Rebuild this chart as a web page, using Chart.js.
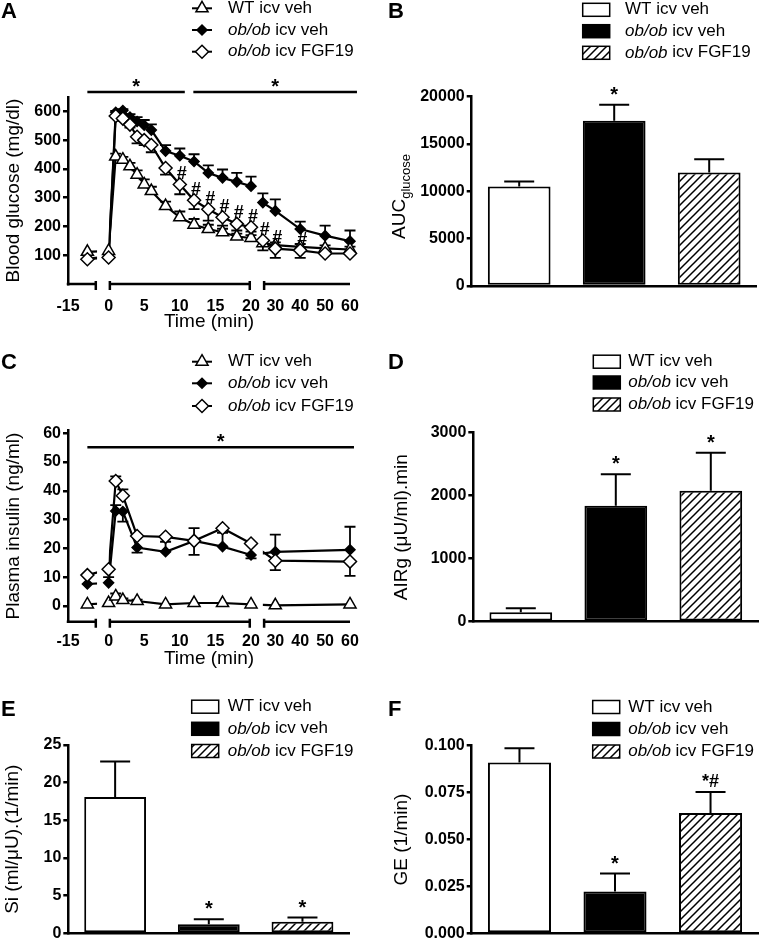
<!DOCTYPE html>
<html>
<head>
<meta charset="utf-8">
<title>ob/ob icv FGF19 IVGTT</title>
<script src="https://cdn.jsdelivr.net/npm/chart.js@4.4.1/dist/chart.umd.min.js"></script>
<style>
  body { margin: 0; background: #fff; }
  #fig { position: relative; width: 778px; height: 945px; background: #fff; overflow: hidden; }
  #fig canvas { position: absolute; }
  .panel { position: absolute; font: bold 22px/22px "Liberation Sans", Arial, sans-serif; color: #000; }
</style>
</head>
<body>
<div id="fig">
  <canvas id="chartA" width="389" height="340" style="left:0;top:0"></canvas>
  <canvas id="chartB" width="389" height="340" style="left:389px;top:0"></canvas>
  <canvas id="chartC" width="389" height="335" style="left:0;top:340px"></canvas>
  <canvas id="chartD" width="389" height="335" style="left:389px;top:340px"></canvas>
  <canvas id="chartE" width="389" height="270" style="left:0;top:675px"></canvas>
  <canvas id="chartF" width="389" height="270" style="left:389px;top:675px"></canvas>
  <div class="panel" style="left:1px;top:0">A</div>
  <div class="panel" style="left:388px;top:0">B</div>
  <div class="panel" style="left:1px;top:351px">C</div>
  <div class="panel" style="left:388px;top:351px">D</div>
  <div class="panel" style="left:1px;top:698px">E</div>
  <div class="panel" style="left:388px;top:698px">F</div>
</div>
<script>
const FONT = '"Liberation Sans", Arial, sans-serif';
Chart.defaults.font.family = FONT;
Chart.defaults.color = '#000';

/* ---- data ---- */
const groups = ['WT icv veh', 'ob/ob icv veh', 'ob/ob icv FGF19'];
const timeTicks = [-15, 0, 5, 10, 15, 20, 30, 40, 50, 60];

// A: blood glucose (mg/dl); errors signed (+ up, - down)
const glucoseTimes  = [-10, 0, 1, 2, 3, 4, 5, 6, 8, 10, 12, 14, 16, 18, 20, 25, 30, 40, 50, 60];
const glucoseWT     = [112, 115, 443, 432, 409, 380, 346, 323, 271, 232, 206, 191, 180, 165, 160, 142, 135, 129, 124, 120];
const glucoseWTErr  = [0, 0, 10, 10, 12, 15, 18, 15, 15, 20, 20, 15, 12, 10, 10, 10, 10, 10, 10, 10];
const glucoseVeh    = [88, 95, 597, 603, 580, 565, 552, 535, 462, 446, 426, 386, 369, 355, 340, 283, 254, 191, 168, 149];
const glucoseVehErr = [0, 0, 5, 5, 10, 15, 18, 20, 21, 25, 25, 26, 29, 31, 33, 32, 40, 26, 35, 37];
const glucoseFGF    = [86, 92, 584, 575, 554, 512, 500, 483, 403, 346, 291, 260, 232, 209, 197, 151, 123, 117, 106, 106];
const glucoseFGFErr = [0, 0, -5, -8, -10, -23, -17, -25, -23, -34, -31, -40, -29, -23, -15, -34, -32, -26, 0, 0];
const glucoseTicks  = [100, 200, 300, 400, 500, 600];
const glucoseHashTimes = [10, 12, 14, 16, 18, 20, 25, 30, 40];
const glucoseSigBars = [[-10, 10.7, 667], [11.9, 62.8, 667]];   // [from min, to min, level]

// C: plasma insulin (ng/ml)
const insulinTimes  = [-10, 0, 1, 2, 4, 8, 12, 16, 20, 30, 60];
const insulinWT     = [0.5, 1, 3.3, 2, 1.7, 0.5, 1, 1, 0.5, 0.2, 0.5];
const insulinWTErr  = [0, 0, 1, 0.6, 0.5, 0, 0, 0, 0, 0, 0];
const insulinVeh    = [7.6, 8, 33, 32.8, 20.3, 18.8, 22.6, 20.6, 17.7, 18.8, 19.5];
const insulinVehErr = [0, 2, 2, -3.5, -1.8, 3.5, -4.9, 4.8, -1.2, 6, 8];
const insulinFGF    = [10.7, 12.7, 43.4, 38.3, 24.3, 24, 22.6, 27, 21.7, 15.7, 15.4];
const insulinFGFErr = [0, 0, 1.6, 2.2, 0, 0, 4.4, 0, 0, -3.3, -5];
const insulinTicks  = [0, 10, 20, 30, 40, 50, 60];
const insulinSigBars = [[-10, 61.6, 55.1]];

// B, D, E, F: bar panels
const aucGlucose = [10500, 17450, 12000];
const aucGlucoseErr = [550, 1700, 1400];
const aucMarks = ['', '*', ''];
const aucTicks = [0, 5000, 10000, 15000, 20000];

const airg = [150, 1840, 2080];
const airgErr = [65, 500, 600];
const airgMarks = ['', '*', '*'];
const airgTicks = [0, 1000, 2000, 3000];

const si = [18.1, 1.22, 1.54];
const siErr = [4.7, 0.66, 0.56];
const siMarks = ['', '*', '*'];
const siTicks = [0, 5, 10, 15, 20, 25];

const ge = [0.0911, 0.0223, 0.0641];
const geErr = [0.0075, 0.0096, 0.0112];
const geMarks = ['', '*', '*#'];
const geTicks = [0, 0.025, 0.05, 0.075, 0.1];

/* ---- broken time axis: each piece is a time range on a share of the plot width ---- */
const timeSegments = [
  {min: -15, max: -7.5, from: 0, to: 0.103},
  {min: 0, max: 20, from: 0.144, to: 0.649},
  {min: 25, max: 60, from: 0.691, to: 1}
];
function toAxis(t) {
  const s = timeSegments.find(g => t <= g.max) || timeSegments[timeSegments.length - 1];
  return s.from + (t - s.min) / (s.max - s.min) * (s.to - s.from);
}

const markers = [
  {pointStyle: 'triangle', radius: 7, fill: '#fff', order: 1},
  {pointStyle: 'rectRot', radius: 5, fill: '#000', order: 2},
  {pointStyle: 'rectRot', radius: 6.5, fill: '#fff', order: 0}
];

/* ---- drawing helpers ---- */
function drawMarker(ctx, st, x, y) {
  const r = st.radius;
  ctx.save();
  ctx.fillStyle = st.fill; ctx.strokeStyle = '#000'; ctx.lineWidth = 1.5;
  ctx.beginPath();
  if (st.pointStyle === 'triangle') {
    ctx.moveTo(x, y - r);
    ctx.lineTo(x + r * 0.866, y + r / 2);
    ctx.lineTo(x - r * 0.866, y + r / 2);
  } else {
    ctx.moveTo(x, y - r); ctx.lineTo(x + r, y); ctx.lineTo(x, y + r); ctx.lineTo(x - r, y);
  }
  ctx.closePath(); ctx.fill(); ctx.stroke();
  ctx.restore();
}

function drawGroupName(ctx, name, x, y) {
  ctx.fillStyle = '#000'; ctx.textAlign = 'left'; ctx.textBaseline = 'middle';
  if (name.startsWith('ob/ob')) {
    ctx.font = 'italic 17px ' + FONT;
    ctx.fillText('ob/ob', x, y);
    x += ctx.measureText('ob/ob').width;
    name = name.slice(5);
  }
  ctx.font = '17px ' + FONT;
  ctx.fillText(name, x, y);
}

function drawLegend(ctx, L, fills) {
  ctx.save();
  groups.forEach((name, i) => {
    const y = L.rows[i];
    if (!fills) {
      ctx.strokeStyle = '#000'; ctx.lineWidth = 2;
      ctx.beginPath(); ctx.moveTo(L.x, y); ctx.lineTo(L.x + 20, y); ctx.stroke();
      drawMarker(ctx, markers[i], L.x + 10, y);
    } else {
      ctx.fillStyle = fills[i]; ctx.fillRect(L.x, y - 6.5, 27, 13);
      ctx.strokeStyle = '#000'; ctx.lineWidth = 1.5; ctx.strokeRect(L.x, y - 6.5, 27, 13);
    }
    drawGroupName(ctx, name, L.textX, y);
  });
  ctx.restore();
}

// centre the ink of a short mark on (x, cy)
function inkText(ctx, text, x, cy) {
  ctx.textAlign = 'center'; ctx.textBaseline = 'alphabetic';
  const m = ctx.measureText(text);
  ctx.fillText(text, x, cy + (m.actualBoundingBoxAscent - m.actualBoundingBoxDescent) / 2);
}

function hatch(ctx) {
  const c = document.createElement('canvas');
  c.width = 8; c.height = 8;
  const g = c.getContext('2d');
  g.fillStyle = '#fff'; g.fillRect(0, 0, 8, 8);
  g.strokeStyle = '#000'; g.lineWidth = 1.5;
  g.beginPath();
  g.moveTo(-1, 9); g.lineTo(9, -1);
  g.moveTo(-3, 3); g.lineTo(3, -3);
  g.moveTo(5, 11); g.lineTo(11, 5);
  g.stroke();
  return ctx.createPattern(c, 'repeat');
}

function yAxis(o) {
  return {
    type: 'linear', min: o.min, max: o.max,
    afterBuildTicks: s => { s.ticks = o.ticks.map(v => ({value: v})); },
    afterFit: s => { s.width = o.width; },
    border: {display: true, color: '#000', width: 2.5},
    grid: {display: true, drawOnChartArea: false, drawTicks: true, tickLength: 5, color: '#000', lineWidth: 2.5},
    ticks: {font: {size: 16, weight: 'bold'}, color: '#000', padding: 2, callback: o.fmt || (v => String(v))},
    title: o.title ? {display: true, text: o.title, color: '#000', font: {size: 19}, padding: {top: o.titlePad, bottom: 0}} : {display: false}
  };
}

/* ---- plugins ---- */
const gapClip = {
  id: 'gapClip',
  beforeDatasetDraw(chart, args) {
    if (!chart.data.datasets[args.index].clipGaps) return;
    const ctx = chart.ctx, x = chart.scales.x, a = chart.chartArea;
    ctx.save();
    ctx.beginPath();
    timeSegments.forEach(s => {
      const x0 = x.getPixelForValue(s.from), x1 = x.getPixelForValue(s.to);
      ctx.rect(x0, a.top - 30, x1 - x0, a.bottom - a.top + 60);
    });
    ctx.clip();
  },
  afterDatasetDraw(chart, args) {
    if (chart.data.datasets[args.index].clipGaps) chart.ctx.restore();
  }
};

const lineErrors = {
  id: 'lineErrors',
  beforeDatasetsDraw(chart) {
    const ctx = chart.ctx, y = chart.scales.y;
    ctx.save();
    ctx.strokeStyle = '#000'; ctx.lineWidth = 1.8;
    chart.data.datasets.forEach((ds, i) => {
      if (!ds.errors) return;
      chart.getDatasetMeta(i).data.forEach((pt, j) => {
        const e = ds.errors[j];
        if (!e) return;
        const v = ds.data[j].y, y0 = y.getPixelForValue(v), y1 = y.getPixelForValue(v + e);
        ctx.beginPath();
        ctx.moveTo(pt.x, y0); ctx.lineTo(pt.x, y1);
        ctx.moveTo(pt.x - 5.5, y1); ctx.lineTo(pt.x + 5.5, y1);
        ctx.stroke();
      });
    });
    ctx.restore();
  }
};

const brokenAxis = {
  id: 'brokenAxis',
  afterDraw(chart) {
    const ctx = chart.ctx, x = chart.scales.x, y = chart.chartArea.bottom;
    ctx.save();
    ctx.strokeStyle = '#000'; ctx.lineWidth = 2.5;
    timeSegments.forEach((s, i) => {
      const x0 = x.getPixelForValue(s.from), x1 = x.getPixelForValue(s.to);
      ctx.beginPath();
      ctx.moveTo(x0 - (i === 0 ? 1.25 : 0), y); ctx.lineTo(x1, y);
      if (i > 0) { ctx.moveTo(x0 + 1.25, y - 3); ctx.lineTo(x0 + 1.25, y + 6); }
      if (i < timeSegments.length - 1) { ctx.moveTo(x1 - 1.25, y - 3); ctx.lineTo(x1 - 1.25, y + 6); }
      ctx.stroke();
    });
    ctx.restore();
  }
};

function lineExtras(o) {
  return {
    id: 'lineExtras',
    afterDraw(chart) {
      const ctx = chart.ctx, x = chart.scales.x, y = chart.scales.y;
      drawLegend(ctx, o.legend);
      ctx.save();
      ctx.strokeStyle = '#000'; ctx.fillStyle = '#000'; ctx.lineWidth = 2.5;
      o.sigBars.forEach(([t0, t1, v]) => {
        const x0 = x.getPixelForValue(toAxis(t0)), x1 = x.getPixelForValue(toAxis(t1)), py = y.getPixelForValue(v);
        ctx.beginPath(); ctx.moveTo(x0, py); ctx.lineTo(x1, py); ctx.stroke();
        ctx.font = 'bold 20px ' + FONT;
        inkText(ctx, '*', (x0 + x1) / 2, py - 9);
      });
      ctx.font = 'bold 18px ' + FONT;
      const fgf = o.series[2][0];
      o.hashTimes.forEach(t => {
        const i = o.times.indexOf(t);
        inkText(ctx, '#', x.getPixelForValue(toAxis(t)) + 2, y.getPixelForValue(fgf[i]) - 12);
      });
      ctx.restore();
    }
  };
}

function lineChart(id, o) {
  const datasets = [];
  o.series.forEach(([vals, errs], k) => {
    const st = markers[k];
    const pts = () => o.times.map((t, i) => ({x: toAxis(t), y: vals[i]}));
    datasets.push({data: pts(), showLine: true, pointRadius: 0, borderColor: '#000', borderWidth: 2.2,
      clipGaps: true, order: 10, clip: false});
    datasets.push({data: pts(), showLine: false, pointStyle: st.pointStyle, pointRadius: st.radius,
      pointBackgroundColor: st.fill, pointBorderColor: '#000', pointBorderWidth: 1.5,
      errors: errs, order: st.order, clip: false});
  });
  return new Chart(document.getElementById(id), {
    type: 'line',
    data: {datasets},
    options: {
      responsive: false, animation: false, events: [],
      layout: {padding: o.padding},
      plugins: {legend: {display: false}, tooltip: {enabled: false}},
      scales: {
        x: {
          type: 'linear', min: 0, max: 1,
          afterBuildTicks: s => { s.ticks = timeTicks.map(t => ({value: toAxis(t)})); },
          afterFit: s => { s.height = o.xHeight; },
          border: {display: false},
          grid: {display: false},
          ticks: {autoSkip: false, maxRotation: 0, minRotation: 0, padding: o.tickPad, color: '#000',
            font: {size: 16, weight: 'bold'}, callback: (v, i) => String(timeTicks[i])},
          title: {display: true, text: 'Time (min)', color: '#000', font: {size: 19}, padding: {top: 0, bottom: o.titlePad}}
        },
        y: yAxis({min: o.yMin, max: o.yMax, ticks: o.yTicks, width: o.yWidth, title: o.yTitle, titlePad: 2})
      }
    },
    plugins: [gapClip, lineErrors, brokenAxis, lineExtras(o)]
  });
}

function barChart(id, o) {
  const canvas = document.getElementById(id);
  const fills = ['#fff', '#000', hatch(canvas.getContext('2d'))];
  const extras = {
    id: 'barExtras',
    afterDatasetsDraw(chart) {
      const ctx = chart.ctx, y = chart.scales.y, meta = chart.getDatasetMeta(0);
      ctx.save();
      ctx.strokeStyle = '#000'; ctx.fillStyle = '#000'; ctx.lineWidth = 2;
      meta.data.forEach((bar, i) => {
        const top = y.getPixelForValue(o.values[i] + o.errors[i]);
        ctx.beginPath();
        ctx.moveTo(bar.x, bar.y); ctx.lineTo(bar.x, top);
        ctx.moveTo(bar.x - 15, top); ctx.lineTo(bar.x + 15, top);
        ctx.stroke();
        const mark = o.marks[i];
        if (mark === '*') {
          ctx.font = 'bold 20px ' + FONT;
          inkText(ctx, mark, bar.x, top - 14);
        } else if (mark) {
          ctx.font = 'bold 18px ' + FONT; ctx.textAlign = 'center'; ctx.textBaseline = 'alphabetic';
          ctx.fillText(mark, bar.x, top - 5);
        }
      });
      ctx.restore();
    },
    afterDraw(chart) {
      drawLegend(chart.ctx, o.legend, fills);
      if (o.subTitle) {
        const ctx = chart.ctx, [main, sub] = o.subTitle;
        ctx.save();
        ctx.fillStyle = '#000'; ctx.textAlign = 'left'; ctx.textBaseline = 'alphabetic';
        ctx.font = '19px ' + FONT; const w1 = ctx.measureText(main).width;
        ctx.font = '13px ' + FONT; const w2 = ctx.measureText(sub).width;
        ctx.translate(0, o.subTitleY);
        ctx.rotate(-Math.PI / 2);
        const u = -(w1 + w2) / 2;
        ctx.font = '19px ' + FONT; ctx.fillText(main, u, 16);
        ctx.font = '13px ' + FONT; ctx.fillText(sub, u + w1, 21);
        ctx.restore();
      }
    }
  };
  return new Chart(canvas, {
    type: 'bar',
    data: {
      labels: groups,
      datasets: [{data: o.values, backgroundColor: fills, borderColor: '#000', borderWidth: 2,
        borderSkipped: false, barPercentage: 0.66, categoryPercentage: 1}]
    },
    options: {
      responsive: false, animation: false, events: [],
      layout: {padding: o.padding},
      plugins: {legend: {display: false}, tooltip: {enabled: false}},
      scales: {
        x: {
          type: 'category', offset: true,
          afterFit: s => { s.height = o.xHeight; },
          border: {display: true, color: '#000', width: 2.5},
          grid: {display: false},
          ticks: {display: false}
        },
        y: yAxis({min: o.yMin, max: o.yMax, ticks: o.yTicks, width: o.yWidth, title: o.yTitle, titlePad: 1, fmt: o.fmt})
      }
    },
    plugins: [extras]
  });
}

/* ---- panels ---- */
lineChart('chartA', {
  times: glucoseTimes,
  series: [[glucoseWT, glucoseWTErr], [glucoseVeh, glucoseVehErr], [glucoseFGF, glucoseFGFErr]],
  yMin: 0, yMax: 650, yTicks: glucoseTicks, yTitle: 'Blood glucose (mg/dl)',
  padding: {left: 0, top: 97, right: 39, bottom: 0}, yWidth: 68, xHeight: 56, tickPad: 5, titlePad: 7,
  legend: {x: 192, textX: 228, rows: [8.3, 30, 51.7]},
  sigBars: glucoseSigBars, hashTimes: glucoseHashTimes
});

barChart('chartB', {
  values: aucGlucose, errors: aucGlucoseErr, marks: aucMarks,
  yMin: 0, yMax: 20000, yTicks: aucTicks, yTitle: null, subTitle: ['AUC', 'glucose'], subTitleY: 196.5,
  padding: {left: 0, top: 96.7, right: 21.3, bottom: 0}, yWidth: 82.7, xHeight: 54,
  legend: {x: 193.7, textX: 236, rows: [9.8, 31.2, 52.8]}
});

lineChart('chartC', {
  times: insulinTimes,
  series: [[insulinWT, insulinWTErr], [insulinVeh, insulinVehErr], [insulinFGF, insulinFGFErr]],
  yMin: -5.5, yMax: 61, yTicks: insulinTicks, yTitle: 'Plasma insulin (ng/ml)',
  padding: {left: 0, top: 90.4, right: 39, bottom: 0}, yWidth: 68, xHeight: 53.3, tickPad: 2, titlePad: 5,
  legend: {x: 192, textX: 228, rows: [21.7, 43.3, 66]},
  sigBars: insulinSigBars, hashTimes: []
});

barChart('chartD', {
  values: airg, errors: airgErr, marks: airgMarks,
  yMin: 0, yMax: 3000, yTicks: airgTicks, yTitle: 'AIRg (\u03bcU/ml).min',
  padding: {left: 0, top: 92.7, right: 19.7, bottom: 0}, yWidth: 84.3, xHeight: 53.3,
  legend: {x: 204.3, textX: 239.3, rows: [21.7, 42.5, 64.5]}
});

barChart('chartE', {
  values: si, errors: siErr, marks: siMarks,
  yMin: 0, yMax: 25, yTicks: siTicks, yTitle: 'Si (ml/\u03bcU).(1/min)',
  padding: {left: 0, top: 70, right: 39.7, bottom: 0}, yWidth: 68.3, xHeight: 10,
  legend: {x: 191.7, textX: 227.7, rows: [31.7, 53.8, 76]}
});

barChart('chartF', {
  values: ge, errors: geErr, marks: geMarks, fmt: v => v.toFixed(3),
  yMin: 0, yMax: 0.1, yTicks: geTicks, yTitle: 'GE (1/min)',
  padding: {left: 0, top: 70.7, right: 19.7, bottom: 0}, yWidth: 82.7, xHeight: 9.3,
  legend: {x: 203.7, textX: 239.3, rows: [32, 54, 76.5]}
});
</script>
</body>
</html>
